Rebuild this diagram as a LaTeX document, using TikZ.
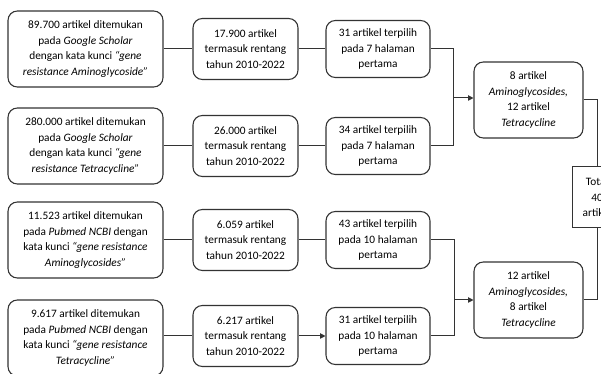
\documentclass[tikz,border=0pt]{standalone}
\usepackage{fontspec}
\setmainfont{Carlito}
\usetikzlibrary{positioning,arrows.meta}

\begin{document}
\begin{tikzpicture}[x=0.75pt,y=-0.75pt,
  every node/.style={font=\fontsize{8.5}{11.6}\selectfont, align=center},
  box/.style={draw=black!80, line width=0.8pt, rounded corners=7pt, inner sep=2pt},
  srcbox/.style={box, minimum width=116.25pt, minimum height=57pt},
  yearbox/.style={box, minimum width=78.75pt, minimum height=45.75pt},
  pagebox/.style={box, minimum width=78pt, minimum height=42.75pt},
  sumbox/.style={box, minimum width=81.75pt, minimum height=57pt},
  totbox/.style={draw=black!80, line width=0.75pt, inner sep=1pt, minimum width=37.5pt, minimum height=45.75pt},
  conn/.style={draw=black!80, line width=0.75pt},
  arr/.style={conn, -{Triangle[length=4pt,width=4pt]}}]
\useasboundingbox (0,0) rectangle (601,374);
\clip (0,0) rectangle (601,374);

% search results
\draw node (a1) at (85.5,49) [srcbox]{89.700 artikel ditemukan\\pada \textit{Google Scholar}\\dengan kata kunci \textit{“gene}\\\textit{resistance Aminoglycoside”}};
\draw node (a2) at (85.5,146) [srcbox]{280.000 artikel ditemukan\\pada \textit{Google Scholar}\\dengan kata kunci \textit{“gene}\\\textit{resistance Tetracycline”}};
\draw node (a3) at (85.5,240) [srcbox]{11.523 artikel ditemukan\\pada \textit{Pubmed NCBI} dengan\\kata kunci \textit{“gene resistance}\\\textit{Aminoglycosides”}};
\draw node (a4) at (85.5,338) [srcbox]{9.617 artikel ditemukan\\pada \textit{Pubmed NCBI} dengan\\kata kunci \textit{“gene resistance}\\\textit{Tetracycline”}};

% year filter and first pages
\draw node foreach \n/\y/\c in {1/49/17.900, 2/146/26.000, 3/240/6.059, 4/336/6.217} (b\n) at (245.5,\y) [yearbox]{\c{} artikel\\termasuk rentang\\tahun 2010-2022};
\draw node foreach \n/\y/\k/\h in {1/49/31/7, 2/146/34/7, 3/240/43/10, 4/336/31/10} (c\n) at (378,\y) [pagebox]{\k{} artikel terpilih\\pada \h{} halaman\\pertama};

% per source
\draw node (k1) at (528.5,100) [sumbox]{8 artikel\\\textit{Aminoglycosides,}\\12 artikel\\\textit{Tetracycline}};
\draw node (k2) at (528.5,300) [sumbox]{12 artikel\\\textit{Aminoglycosides,}\\8 artikel\\\textit{Tetracycline}};
\draw node (tot) at (597,197.5) [totbox]{Total\\40\\artikel};

\coordinate (j1) at (453,98);
\coordinate (j2) at (454,300);

\draw[arr] (a1) -- (b1) (a2) -- (b2) (a3) -- (b3) (a4.east |- b4) -- (b4)
  (b1) -- (c1) (b2) -- (c2) (b3) -- (c3) (b4) -- (c4);
\draw[conn] (c1.east) -| (j1) (c2.east) -| (j1)
  (c3.east) -| (j2) (c4.east) -| (j2);
\draw[arr] (j1) -- (j1 -| k1.west);
\draw[arr] (j2) -- (j2 -| k2.west);
\draw[conn] (k1.east) -| (tot.north)
  (k2.east) -| (tot.south);
\end{tikzpicture}
\end{document}
